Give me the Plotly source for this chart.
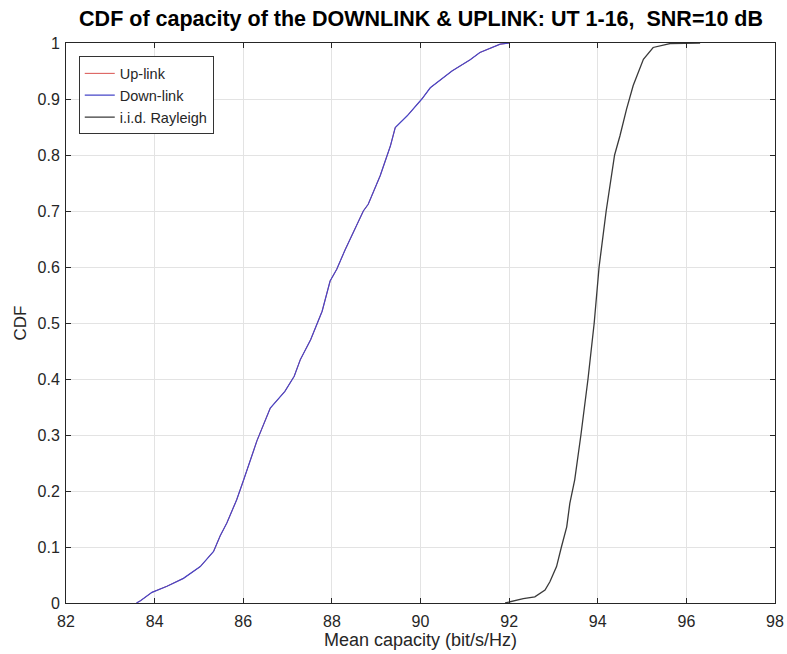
import plotly.graph_objects as go

# Down-link (and Up-link, identical so hidden beneath) empirical CDF
dl_capacity = [83.59, 83.68, 83.94, 84.28, 84.65, 85.03, 85.33, 85.48, 85.63, 85.85, 86.01,
               86.31, 86.61, 86.94, 87.15, 87.29, 87.52, 87.78, 87.96, 88.11, 88.30, 88.49,
               88.71, 88.82, 89.09, 89.32, 89.43, 89.70, 90.03, 90.22, 90.71, 91.12, 91.34,
               91.80, 92.02]
dl_cdf = [0.0, 0.004, 0.019, 0.030, 0.044, 0.065, 0.092, 0.12, 0.143, 0.184, 0.22,
          0.29, 0.348, 0.378, 0.405, 0.435, 0.47, 0.521, 0.575, 0.596, 0.631, 0.664,
          0.70, 0.712, 0.763, 0.816, 0.849, 0.870, 0.90, 0.92, 0.95, 0.97, 0.983,
          0.998, 1.0]

# i.i.d. Rayleigh reference
ray_capacity = [91.91, 92.32, 92.58, 92.81, 92.92, 93.07, 93.18, 93.30, 93.37, 93.48, 93.62,
                93.78, 93.92, 94.03, 94.19, 94.38, 94.50, 94.65, 94.80, 95.03, 95.25, 95.63,
                96.31]
ray_cdf = [0.0, 0.008, 0.011, 0.023, 0.038, 0.065, 0.10, 0.136, 0.178, 0.22, 0.30,
           0.40, 0.50, 0.60, 0.70, 0.80, 0.834, 0.882, 0.924, 0.971, 0.992, 0.999,
           1.0]

x_ticks = [82, 84, 86, 88, 90, 92, 94, 96, 98]
y_ticks = [0, 0.1, 0.2, 0.3, 0.4, 0.5, 0.6, 0.7, 0.8, 0.9, 1]
y_tick_text = ["0", "0.1", "0.2", "0.3", "0.4", "0.5", "0.6", "0.7", "0.8", "0.9", "1"]

fig = go.Figure()
fig.add_trace(go.Scatter(x=dl_capacity, y=dl_cdf, mode="lines", name="Up-link",
                         line=dict(color="#d9534f", width=1)))
fig.add_trace(go.Scatter(x=dl_capacity, y=dl_cdf, mode="lines", name="Down-link",
                         line=dict(color="#4646c8", width=1.2)))
fig.add_trace(go.Scatter(x=ray_capacity, y=ray_cdf, mode="lines", name="i.i.d. Rayleigh",
                         line=dict(color="#3a3a3a", width=1.3)))

axis_common = dict(
    showgrid=True, gridcolor="#e3e3e3", gridwidth=1,
    showline=True, linecolor="#262626", linewidth=1, mirror="ticks",
    ticks="inside", ticklen=5, tickcolor="#262626",
    zeroline=False, automargin=False,
    tickfont=dict(size=16, color="#262626"),
)

fig.update_layout(
    width=787, height=654,
    margin=dict(l=66, r=12, t=43, b=51),
    paper_bgcolor="white", plot_bgcolor="white",
    font=dict(family="Liberation Sans, Arial, sans-serif", color="#262626"),
    title=dict(text="<b>CDF of capacity of the DOWNLINK &amp; UPLINK: UT 1-16,  SNR=10 dB</b>",
               x=0.535, xanchor="center", y=0.971, yanchor="middle",
               font=dict(size=21.5, color="#000000")),
    xaxis=dict(range=[82, 98], tickvals=x_ticks, ticklabelstandoff=4,
               title=dict(text="Mean capacity (bit/s/Hz)", font=dict(size=18), standoff=3),
               **axis_common),
    yaxis=dict(range=[0, 1], tickvals=y_ticks, ticktext=y_tick_text, ticklabelstandoff=2,
               title=dict(text="CDF", font=dict(size=17), standoff=6), **axis_common),
    legend=dict(x=0.018, y=0.976, xanchor="left", yanchor="top",
                bgcolor="white", bordercolor="#333333", borderwidth=1,
                font=dict(size=14.5, color="#262626"), tracegroupgap=0),
    showlegend=True,
)

fig.write_html("out.html")
